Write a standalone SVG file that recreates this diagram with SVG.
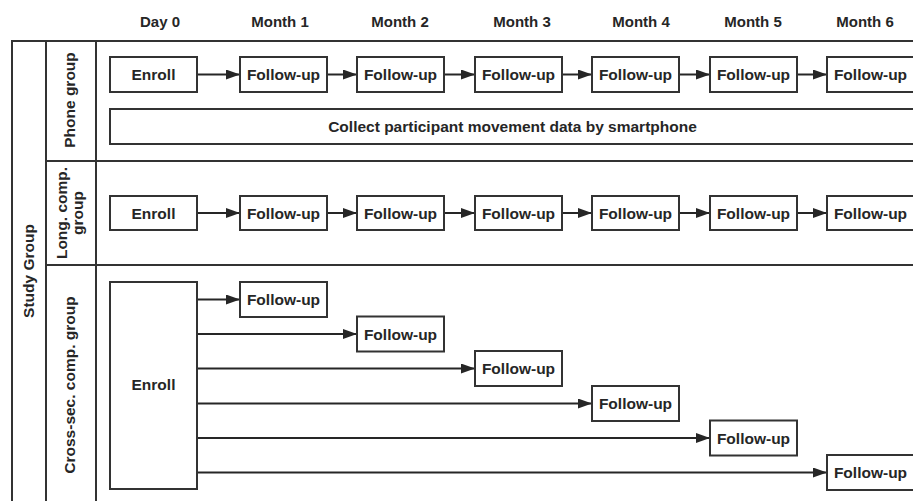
<svg xmlns="http://www.w3.org/2000/svg" width="913" height="501" viewBox="0 0 913 501">
<style>
.t{font-family:"Liberation Sans",Arial,sans-serif;font-weight:bold;font-size:15.5px;fill:#262626;text-anchor:middle}
.h{font-size:15px}
.b{fill:#fff;stroke:#333;stroke-width:2}
.g{stroke:#333;stroke-width:2;fill:none}
.c{stroke:#262626;stroke-width:2;fill:none;marker-end:url(#ah)}
</style>
<defs>
<marker id="ah" markerUnits="userSpaceOnUse" markerWidth="15" markerHeight="11" refX="14" refY="5" orient="auto">
<path d="M0,0 L14,5 L0,10 Z" fill="#262626"/>
</marker>
</defs>
<rect width="913" height="501" fill="#fff"/>
<g id="headers">
<text class="t h" x="160" y="27">Day 0</text>
<text class="t h" x="280" y="27">Month 1</text>
<text class="t h" x="400" y="27">Month 2</text>
<text class="t h" x="522" y="27">Month 3</text>
<text class="t h" x="641" y="27">Month 4</text>
<text class="t h" x="753" y="27">Month 5</text>
<text class="t h" x="865" y="27">Month 6</text>
</g>
<g id="grid">
<path class="g" d="M12,501 V41 H913 M46,41 V501 M96,41 V501 M46,161 H913 M46,265 H913"/>
<text class="t" transform="translate(34,271) rotate(-90)">Study Group</text>
<text class="t" transform="translate(74.5,100) rotate(-90)">Phone group</text>
<text class="t" transform="translate(66.5,213) rotate(-90)">Long. comp.</text>
<text class="t" transform="translate(82.5,213) rotate(-90)">group</text>
<text class="t" transform="translate(74.5,385) rotate(-90)">Cross-sec. comp. group</text>
</g>
<g id="connectors">
<path class="c" d="M197,74.5 H240"/>
<path class="c" d="M327,74.5 H357"/>
<path class="c" d="M444,74.5 H475"/>
<path class="c" d="M562,74.5 H592"/>
<path class="c" d="M679,74.5 H710"/>
<path class="c" d="M797,74.5 H827"/>
<path class="c" d="M197,213 H240"/>
<path class="c" d="M327,213 H357"/>
<path class="c" d="M444,213 H475"/>
<path class="c" d="M562,213 H592"/>
<path class="c" d="M679,213 H710"/>
<path class="c" d="M797,213 H827"/>
<path class="c" d="M197,299.5 H240"/>
<path class="c" d="M197,334 H357"/>
<path class="c" d="M197,368.5 H475"/>
<path class="c" d="M197,403.5 H592"/>
<path class="c" d="M197,438 H710"/>
<path class="c" d="M197,472.5 H827"/>
</g>
<g id="phone-enroll"><rect class="b" x="110" y="57" width="87" height="35"/><text class="t" x="153.5" y="80">Enroll</text></g>
<g id="phone-f1"><rect class="b" x="240" y="57" width="87" height="35"/><text class="t" x="283.5" y="80">Follow-up</text></g>
<g id="phone-f2"><rect class="b" x="357" y="57" width="87" height="35"/><text class="t" x="400.5" y="80">Follow-up</text></g>
<g id="phone-f3"><rect class="b" x="475" y="57" width="87" height="35"/><text class="t" x="518.5" y="80">Follow-up</text></g>
<g id="phone-f4"><rect class="b" x="592" y="57" width="87" height="35"/><text class="t" x="635.5" y="80">Follow-up</text></g>
<g id="phone-f5"><rect class="b" x="710" y="57" width="87" height="35"/><text class="t" x="753.5" y="80">Follow-up</text></g>
<g id="phone-f6"><rect class="b" x="827" y="57" width="100" height="35"/><text class="t" x="870.5" y="80">Follow-up</text></g>
<g id="phone-collect"><rect class="b" x="110" y="109" width="820" height="35"/><text class="t" x="512.5" y="131.5">Collect participant movement data by smartphone</text></g>
<g id="long-enroll"><rect class="b" x="110" y="196" width="87" height="34"/><text class="t" x="153.5" y="218.5">Enroll</text></g>
<g id="long-f1"><rect class="b" x="240" y="196" width="87" height="34"/><text class="t" x="283.5" y="218.5">Follow-up</text></g>
<g id="long-f2"><rect class="b" x="357" y="196" width="87" height="34"/><text class="t" x="400.5" y="218.5">Follow-up</text></g>
<g id="long-f3"><rect class="b" x="475" y="196" width="87" height="34"/><text class="t" x="518.5" y="218.5">Follow-up</text></g>
<g id="long-f4"><rect class="b" x="592" y="196" width="87" height="34"/><text class="t" x="635.5" y="218.5">Follow-up</text></g>
<g id="long-f5"><rect class="b" x="710" y="196" width="87" height="34"/><text class="t" x="753.5" y="218.5">Follow-up</text></g>
<g id="long-f6"><rect class="b" x="827" y="196" width="100" height="34"/><text class="t" x="870.5" y="218.5">Follow-up</text></g>
<g id="cross-enroll"><rect class="b" x="110" y="282" width="87" height="207"/><text class="t" x="153.5" y="390">Enroll</text></g>
<g id="cross-f1"><rect class="b" x="240" y="282" width="87" height="35"/><text class="t" x="283.5" y="305">Follow-up</text></g>
<g id="cross-f2"><rect class="b" x="357" y="316.5" width="87" height="35"/><text class="t" x="400.5" y="339.5">Follow-up</text></g>
<g id="cross-f3"><rect class="b" x="475" y="351" width="87" height="35"/><text class="t" x="518.5" y="374">Follow-up</text></g>
<g id="cross-f4"><rect class="b" x="592" y="386" width="87" height="35"/><text class="t" x="635.5" y="409">Follow-up</text></g>
<g id="cross-f5"><rect class="b" x="710" y="420.5" width="87" height="35"/><text class="t" x="753.5" y="443.5">Follow-up</text></g>
<g id="cross-f6"><rect class="b" x="827" y="455" width="100" height="35"/><text class="t" x="870.5" y="478">Follow-up</text></g>
</svg>
